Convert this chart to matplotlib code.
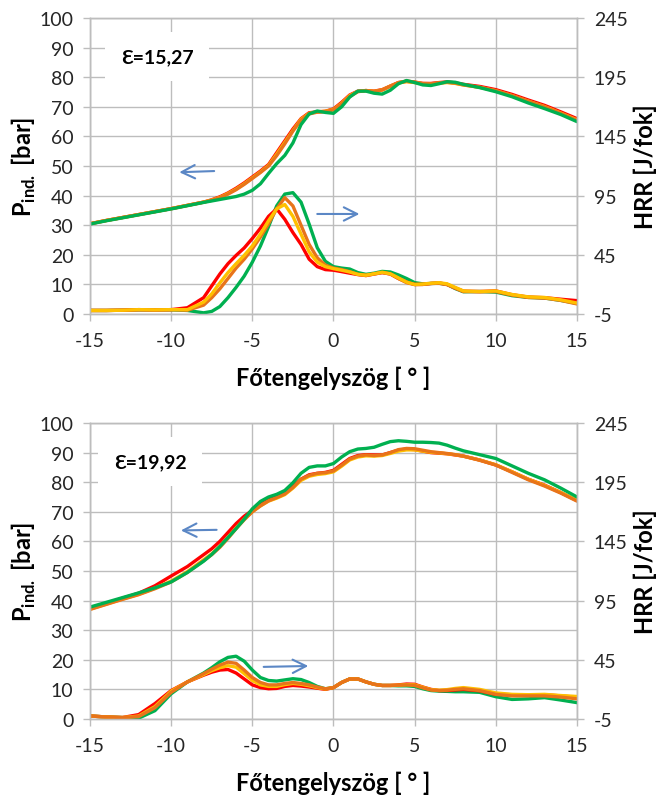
import matplotlib
matplotlib.use("Agg")
import matplotlib.pyplot as plt

plt.rcParams['font.family'] = ['Lato', 'DejaVu Sans']
plt.rcParams['mathtext.fontset'] = 'custom'
plt.rcParams['mathtext.rm'] = 'Lato'
plt.rcParams['mathtext.bf'] = 'Lato:bold'
plt.rcParams['axes.unicode_minus'] = False

# crank angle grid [deg]
X = [-15, -14, -13, -12, -11, -10, -9, -8, -7.5, -7, -6.5, -6, -5.5, -5, -4.5, -4,
     -3.5, -3, -2.5, -2, -1.5, -1, -0.5, 0, 0.5, 1, 1.5, 2, 2.5, 3, 3.5, 4, 4.5, 5,
     5.5, 6, 6.5, 7, 7.5, 8, 9, 10, 11, 12, 13, 14, 15]

# ---- eps = 15,27 : indicated pressure [bar]
P1_red = [30.5, 31.6, 32.6, 33.6, 34.6, 35.6, 36.7, 37.8, 38.6, 39.6, 40.9, 42.5, 44.3, 46.3, 48.3, 50.5,
          54.5, 58.5, 62.5, 66, 68, 68.3, 68.5, 69.3, 71.5, 74, 75.3, 75.5, 75.3, 75.8, 77, 78.2, 78.6, 78.3,
          77.9, 77.9, 78.2, 78.4, 78.1, 77.6, 76.9, 75.8, 74.2, 72.3, 70.5, 68.3, 66]
P1_yel = [30.5, 31.6, 32.6, 33.6, 34.6, 35.6, 36.7, 37.8, 38.5, 39.4, 40.7, 42.2, 44, 46, 48, 50.2,
          54, 58, 62, 65.8, 67.8, 68.3, 68.5, 69.1, 71.2, 73.8, 75.2, 75.5, 75.2, 75.7, 77, 78.1, 78.5, 78.2,
          77.8, 77.7, 78, 78.2, 77.9, 77.4, 76.6, 75.4, 73.8, 71.9, 70.1, 67.9, 65.6]
P1_ora = [30.5, 31.6, 32.6, 33.6, 34.6, 35.6, 36.7, 37.8, 38.4, 39.3, 40.5, 42, 43.8, 45.8, 47.8, 50,
          53.5, 57.5, 61.8, 65.5, 67.6, 68.2, 68.4, 69, 71, 73.5, 75.1, 75.5, 75.2, 75.7, 77, 78.2, 78.7, 78.4,
          77.9, 77.8, 78.1, 78.3, 78, 77.4, 76.6, 75.5, 73.8, 71.9, 70, 67.8, 65.4]
P1_grn = [30.4, 31.5, 32.5, 33.5, 34.5, 35.5, 36.6, 37.7, 38.2, 38.7, 39.2, 39.7, 40.5, 41.8, 44, 47.5,
          50.8, 53.6, 57.8, 64, 67.6, 68.6, 68.1, 67.8, 70, 73.3, 75.3, 75.3, 74.6, 74.3, 75.6, 77.8, 78.9, 78.2,
          77.4, 77.2, 77.8, 78.5, 78.3, 77.6, 76.5, 75.1, 73.4, 71.3, 69.4, 67.4, 65]

# ---- eps = 15,27 : heat release rate [J/fok]
H1_red = [-2, -2, -1.8, -1.3, -1.5, -1.3, 0.3, 8.8, 18.8, 28.8, 37.5, 44.5, 50.8, 58.8, 67.5, 77.5,
          83.8, 75, 63.8, 53.8, 41.3, 35, 32.5, 32, 30.8, 29.5, 28.3, 27.5, 28.8, 30, 28.8, 25, 22, 20,
          20, 20.8, 21.3, 20, 17, 14.3, 14, 14.5, 11.3, 9.3, 8.8, 7.5, 6.3]
H1_yel = [-2, -2, -1.8, -1.3, -1.5, -1.3, -1.3, 5, 12, 21.3, 30, 37.5, 44.5, 52.5, 62.5, 73.8,
          83.8, 87.5, 77.5, 62.5, 47.5, 38.8, 35, 33.3, 32, 30.5, 28.5, 27.8, 29, 30.3, 29, 25.5, 22, 20,
          20.3, 21, 21.5, 20.5, 17.5, 14.5, 14, 14.5, 11.5, 9.5, 9, 7, 4.3]
H1_ora = [-2, -2, -1.8, -1.3, -1.5, -1.3, -1.8, 2.5, 8.8, 16.3, 25, 33.8, 41.3, 50, 60, 71.3,
          83.8, 93.3, 86.3, 70, 53.8, 42.5, 36.3, 33.8, 32.5, 30.8, 28.5, 27.5, 28.8, 30, 28.8, 25, 21.5, 19.8,
          20, 20.8, 21, 19.8, 16.8, 14, 13.8, 14, 11, 9, 8.5, 6.5, 3.5]
H1_grn = [-2, -2, -1.8, -1.5, -1.5, -1.5, -2, -4, -2.8, 1.3, 8.8, 17.5, 27, 38.8, 52.5, 68.8,
          86.3, 96.3, 97.5, 89.5, 71, 51, 39.5, 35, 33.8, 33, 30, 28.5, 29.5, 31, 30.5, 28, 25, 21.5,
          20.5, 20.8, 21, 20, 16.5, 13.8, 14, 13.5, 10.5, 9, 8.5, 6.5, 4]

# ---- eps = 19,92 : indicated pressure [bar]
P2_red = [37.2, 39, 40.8, 42.5, 45, 48.3, 51.5, 55.5, 57.5, 60, 63, 66, 68.5, 70.5, 72.5, 74,
          75, 76.5, 78.5, 81, 82.5, 83, 83.3, 84, 86, 88, 89, 89.3, 89.2, 89.2, 90, 90.8, 91.2, 91,
          90.5, 90, 89.8, 89.6, 89.2, 88.8, 87.5, 85.8, 83.5, 81, 79, 76.5, 73.8]
P2_yel = [37.1, 38.8, 40.5, 42.1, 44.2, 46.6, 49.8, 53.8, 55.8, 58.3, 61.3, 64.5, 67.5, 70, 72, 73.6,
          74.6, 75.8, 78, 80.6, 82, 82.6, 82.9, 83.5, 85.4, 87.5, 88.5, 88.9, 88.8, 89, 89.7, 90.5, 90.9, 90.9,
          90.5, 90.1, 89.9, 89.6, 89.3, 88.8, 87.5, 85.9, 83.5, 81, 78.9, 76.5, 73.9]
P2_ora = [37, 38.7, 40.4, 42, 44, 46.3, 49.5, 53.5, 55.5, 58, 61, 64.3, 67.3, 70, 72, 73.7,
          74.8, 76, 78.2, 81, 82.3, 83, 83.2, 83.8, 85.7, 87.8, 88.8, 89.2, 89, 89.2, 90, 91, 91.4, 91.3,
          90.8, 90.3, 90, 89.7, 89.3, 88.8, 87.4, 85.8, 83.3, 80.8, 78.7, 76.3, 73.6]
P2_grn = [37.8, 39.4, 41, 42.6, 44.3, 46.3, 49.5, 53.3, 55.6, 58.3, 61.3, 64.3, 67.5, 71, 73.5, 75,
          75.9, 77.2, 79.8, 83, 85, 85.5, 85.5, 86.3, 88.5, 90.3, 91.2, 91.4, 91.8, 92.8, 93.7, 94, 93.8, 93.5,
          93.5, 93.4, 93.2, 92.5, 91.5, 90.6, 89.3, 88, 85.5, 83, 80.8, 78, 75]

# ---- eps = 19,92 : heat release rate [J/fok]
H2_red = [-2.5, -3.3, -3.8, -1.3, 8, 19, 26.3, 32, 34.5, 36.3, 36.8, 33.8, 28.8, 23.8, 21.5, 20.5,
          20.8, 22.5, 23.3, 22.8, 22, 21, 20, 21.5, 25.8, 28.8, 28.8, 26.3, 24.3, 23.3, 23.3, 23.8, 24.5, 24.3,
          22, 20, 19, 19, 19.5, 20, 18.8, 15.8, 15.5, 15, 15.5, 14.5, 13.3]
H2_yel = [-2.5, -3.3, -3.8, -2.5, 5.5, 18.5, 26.3, 32.5, 35.8, 38.3, 40, 38.8, 33.3, 27.5, 23.8, 22.5,
          22.5, 24, 25, 24.3, 23, 21.5, 20.3, 21.5, 25.8, 28.8, 28.8, 26.3, 24.3, 23.3, 23.3, 23.5, 24, 23.8,
          21.8, 19.8, 19.3, 19.8, 20.8, 21.5, 20, 17, 15.8, 15.5, 15.8, 14.8, 14]
H2_ora = [-2.5, -3.3, -3.8, -3, 4.5, 17.5, 26.3, 33.3, 37, 40.5, 43, 42, 36.3, 30, 25.8, 23.8,
          23.8, 25, 25.8, 25, 23.8, 22, 20.5, 21.5, 25.8, 28.8, 28.8, 26.3, 24.3, 23.3, 23.3, 23.5, 23.8, 23.3,
          21.3, 19.5, 19, 19.3, 20, 20.5, 19, 15.8, 14.5, 14.5, 14.5, 13.5, 12]
H2_grn = [-2.5, -3.3, -3.8, -4.3, 2, 16.3, 26.3, 33.8, 38.3, 43.3, 47, 48, 43.8, 36.3, 30, 27.5,
          27, 28, 29, 28.3, 25.8, 22.5, 20.5, 21.5, 25.8, 28.8, 28.8, 26.3, 24.3, 23.3, 23.3, 23, 23, 22.5,
          20.5, 19, 18.5, 18.3, 18, 18, 17.5, 13.8, 11.5, 12, 13, 11, 8.8]

LABELS = ["\u0190=15,27", "\u0190=19,92"]
XTICKS = [-15, -10, -5, 0, 5, 10, 15]
PTICKS = list(range(0, 101, 10))
HTICKS = [-5, 45, 95, 145, 195, 245]

C_RED, C_YEL, C_ORA, C_GRN = "#FF0000", "#FFC000", "#E8741A", "#00B050"
GRID = "#BDBDBD"
ARROW = "#5B87C5"
TXT = "#262626"

fig = plt.figure(figsize=(6.70, 8.03), dpi=100)

panels = [
    dict(rect=[0.1343, 0.6077, 0.7269, 0.3686],
         P=[(P1_red, C_RED), (P1_yel, C_YEL), (P1_ora, C_ORA), (P1_grn, C_GRN)],
         H=[(H1_grn, C_GRN), (H1_red, C_RED), (H1_ora, C_ORA), (H1_yel, C_YEL)],
         lab=LABELS[0], labpos=(-10.85, 87.0),
         arrL=((-7.35, 48.3), (-9.5, 47.9)), arrR=((-1.0, 33.8), (1.6, 33.8))),
    dict(rect=[0.1343, 0.1034, 0.7269, 0.3686],
         P=[(P2_red, C_RED), (P2_yel, C_YEL), (P2_ora, C_ORA), (P2_grn, C_GRN)],
         H=[(H2_grn, C_GRN), (H2_red, C_RED), (H2_yel, C_YEL), (H2_ora, C_ORA)],
         lab=LABELS[1], labpos=(-11.3, 87.0),
         arrL=((-7.2, 63.9), (-9.4, 63.7)), arrR=((-4.3, 17.6), (-1.55, 17.9))),
]

for pn in panels:
    ax = fig.add_axes(pn["rect"])
    ax2 = ax.twinx()
    ax.set_xlim(-15, 15)
    ax.set_ylim(0, 100)
    ax2.set_ylim(-5, 245)
    ax.set_xticks(XTICKS)
    ax.set_yticks(PTICKS)
    ax2.set_yticks(HTICKS)
    ax.grid(True, color=GRID, lw=1.0)
    ax.set_axisbelow(True)
    for a in (ax, ax2):
        for s in a.spines.values():
            s.set_color(GRID)
            s.set_linewidth(1.0)
    ax.tick_params(axis='both', direction='out', length=5, width=1.0, color=GRID,
                   labelsize=14, labelcolor=TXT)
    ax.tick_params(axis='y', pad=7)
    ax.tick_params(axis='x', pad=8)
    ax2.tick_params(axis='y', direction='out', length=5, width=1.0, color=GRID,
                    labelsize=14, labelcolor=TXT, pad=7)

    for ys, c in pn["P"]:
        ax.plot(X, ys, color=c, lw=2.4, solid_joinstyle='round', solid_capstyle='round')
    for ys, c in pn["H"]:
        ax2.plot(X, ys, color=c, lw=2.4, solid_joinstyle='round', solid_capstyle='round')

    ax2.text(pn["labpos"][0], -5 + 2.5 * pn["labpos"][1], pn["lab"], fontsize=14, fontweight='bold',
             ha='center', va='center', color='black', zorder=5,
             bbox=dict(boxstyle='square,pad=0.8', fc='white', ec='none'))

    for (tail, head) in (pn["arrL"], pn["arrR"]):
        ax2.annotate("", xy=(head[0], -5 + 2.5 * head[1]), xytext=(tail[0], -5 + 2.5 * tail[1]),
                     arrowprops=dict(arrowstyle='->', color=ARROW, lw=1.5, mutation_scale=24,
                                     shrinkA=0, shrinkB=0), zorder=6)

    ax.set_xlabel("F\u0151tengelysz\u00f6g [ \u00b0 ]", fontsize=17, fontweight='bold', color='black')
    ax.xaxis.label.set_va('center')
    ax.xaxis.set_label_coords(0.5, -0.215)
    ax.set_ylabel(r"P$_{\mathbf{ind.}}$ [bar]", fontsize=17, fontweight='bold', color='black')
    ax.yaxis.label.set_va('center')
    ax.yaxis.set_label_coords(-0.135, 0.5)
    ax2.set_ylabel("HRR [J/fok]", fontsize=17, fontweight='bold', color='black', rotation=90)
    ax2.yaxis.label.set_va('center')
    ax2.yaxis.set_label_coords(1.14, 0.5)
    ax2.set_zorder(ax.get_zorder() + 1)

fig.savefig("out.png", dpi=100, facecolor='white')
